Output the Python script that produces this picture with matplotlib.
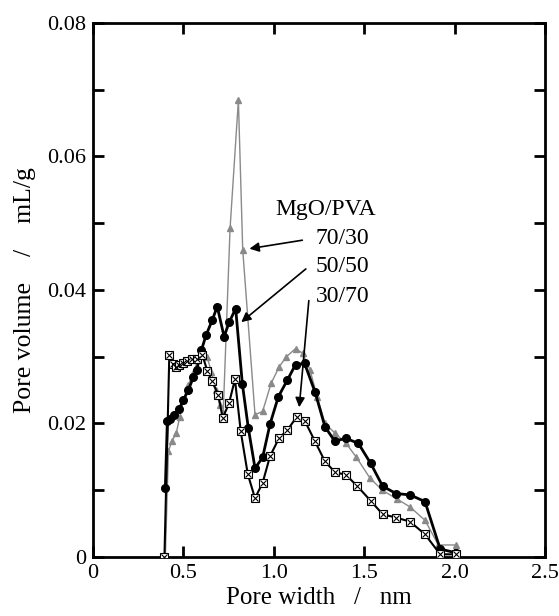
import numpy as np
import matplotlib
matplotlib.use("Agg")
import matplotlib.pyplot as plt

plt.rcParams['font.family'] = ['Liberation Serif', 'DejaVu Serif']

# MgO/PVA 70/30 (grey triangles)
w_7030 = [0.40, 0.417, 0.435, 0.46, 0.48, 0.50, 0.527, 0.555, 0.58, 0.605, 0.63, 0.655, 0.68, 0.70, 0.72,
          0.758, 0.804, 0.828, 0.896, 0.938, 0.985, 1.03, 1.07, 1.12, 1.16, 1.20, 1.24, 1.283, 1.34,
          1.40, 1.455, 1.532, 1.60, 1.68, 1.753, 1.836, 1.91, 2.01]
v_7030 = [0.0, 0.0158, 0.0173, 0.0185, 0.021, 0.0235, 0.0258, 0.0275, 0.0295, 0.031, 0.030, 0.0277, 0.025, 0.0228, 0.0215,
          0.0492, 0.0684, 0.046, 0.0213, 0.0218, 0.026, 0.0285, 0.030, 0.0312, 0.0305, 0.028, 0.024, 0.020, 0.0185,
          0.017, 0.015, 0.0118, 0.010, 0.0087, 0.0075, 0.0055, 0.0018, 0.0018]

# MgO/PVA 50/50 (black circles)
w_5050 = [0.40, 0.411, 0.426, 0.45, 0.477, 0.50, 0.527, 0.555, 0.573, 0.60, 0.625, 0.66, 0.687, 0.725, 0.754,
          0.789, 0.826, 0.859, 0.896, 0.938, 0.979, 1.025, 1.075, 1.12, 1.17, 1.228, 1.283, 1.338, 1.397, 1.468,
          1.536, 1.602, 1.676, 1.753, 1.836, 1.92, 2.01]
v_5050 = [0.0104, 0.0203, 0.0207, 0.0212, 0.0222, 0.0235, 0.025, 0.0269, 0.028, 0.031, 0.0332, 0.0355, 0.0375, 0.033, 0.0352,
          0.0372, 0.0259, 0.0193, 0.0133, 0.0149, 0.0199, 0.024, 0.0265, 0.0288, 0.029, 0.0247, 0.0195, 0.0173, 0.0178, 0.017,
          0.014, 0.0106, 0.0095, 0.0093, 0.0083, 0.0012, 0.0006]

# MgO/PVA 30/70 (crossed squares)
w_3070 = [0.395, 0.422, 0.44, 0.459, 0.478, 0.496, 0.522, 0.546, 0.573, 0.605, 0.632, 0.656, 0.693, 0.717, 0.752,
          0.785, 0.817, 0.856, 0.896, 0.938, 0.979, 1.029, 1.075, 1.127, 1.173, 1.228, 1.283, 1.338, 1.399, 1.462,
          1.536, 1.602, 1.676, 1.753, 1.836, 1.92, 2.01]
v_3070 = [0.0, 0.0302, 0.0289, 0.0284, 0.0287, 0.029, 0.0294, 0.0297, 0.0297, 0.0302, 0.0279, 0.0264, 0.0243, 0.0208, 0.023,
          0.0266, 0.0188, 0.0124, 0.0088, 0.0111, 0.0151, 0.0178, 0.019, 0.021, 0.0203, 0.0173, 0.0143, 0.0127, 0.0123, 0.0106,
          0.0084, 0.0064, 0.0059, 0.0053, 0.0034, 0.0004, 0.0004]

xticks = [0, 0.5, 1.0, 1.5, 2.0, 2.5]
xlabels = ["0", "0.5", "1.0", "1.5", "2.0", "2.5"]
yticks = [0, 0.02, 0.04, 0.06, 0.08]
ylabels = ["0", "0.02", "0.04", "0.06", "0.08"]

fig = plt.figure(figsize=(5.59, 6.16), dpi=100)
ax = fig.add_axes([0.1664, 0.0958, 0.8086, 0.8673])

ax.plot(w_7030, v_7030, color="#8a8a8a", lw=1.0, marker="^", ms=4, mfc="#8a8a8a", mec="#8a8a8a", zorder=2)
ax.plot(w_5050, v_5050, color="black", lw=2.0, marker="o", ms=5.5, mfc="black", mec="black", zorder=3)
ax.plot(w_3070, v_3070, color="black", lw=1.5, marker="s", ms=6, mfc="white", mec="black", mew=0.8, zorder=4)
ax.plot(w_3070, v_3070, ls="none", marker="x", ms=5, mec="black", mew=0.8, zorder=5)

ax.set_xlim(0, 2.5)
ax.set_ylim(0, 0.08)
ax.set_xticks(xticks)
ax.set_xticklabels(xlabels)
ax.set_yticks(yticks)
ax.set_yticklabels(ylabels)
ax.set_yticks(np.arange(0.01, 0.08, 0.02), minor=True)
ax.tick_params(which="both", direction="in", top=True, right=True, length=8, width=2,
               labelsize=16, pad=5)
for s in ax.spines.values():
    s.set_linewidth(2)

ax.set_xlabel("Pore width   /   nm", fontsize=18, labelpad=3)
ax.set_ylabel("Pore volume    /    mL/g", fontsize=18.5, labelpad=8)

ax.text(1.007, 0.0520, "MgO/PVA", fontsize=17, ha="left", va="center")
ax.text(1.233, 0.0477, "70/30", fontsize=17, ha="left", va="center")
ax.text(1.233, 0.0435, "50/50", fontsize=17, ha="left", va="center")
ax.text(1.233, 0.0390, "30/70", fontsize=17, ha="left", va="center")

arrow = dict(arrowstyle="-|>", color="black", lw=1.2, mutation_scale=14)
ax.annotate("", xy=(0.85, 0.0461), xytext=(1.173, 0.0475), arrowprops=arrow)
ax.annotate("", xy=(0.808, 0.0349), xytext=(1.189, 0.0434), arrowprops=arrow)
ax.annotate("", xy=(1.139, 0.022), xytext=(1.195, 0.0388), arrowprops=arrow)

fig.savefig("out.png", dpi=100)
